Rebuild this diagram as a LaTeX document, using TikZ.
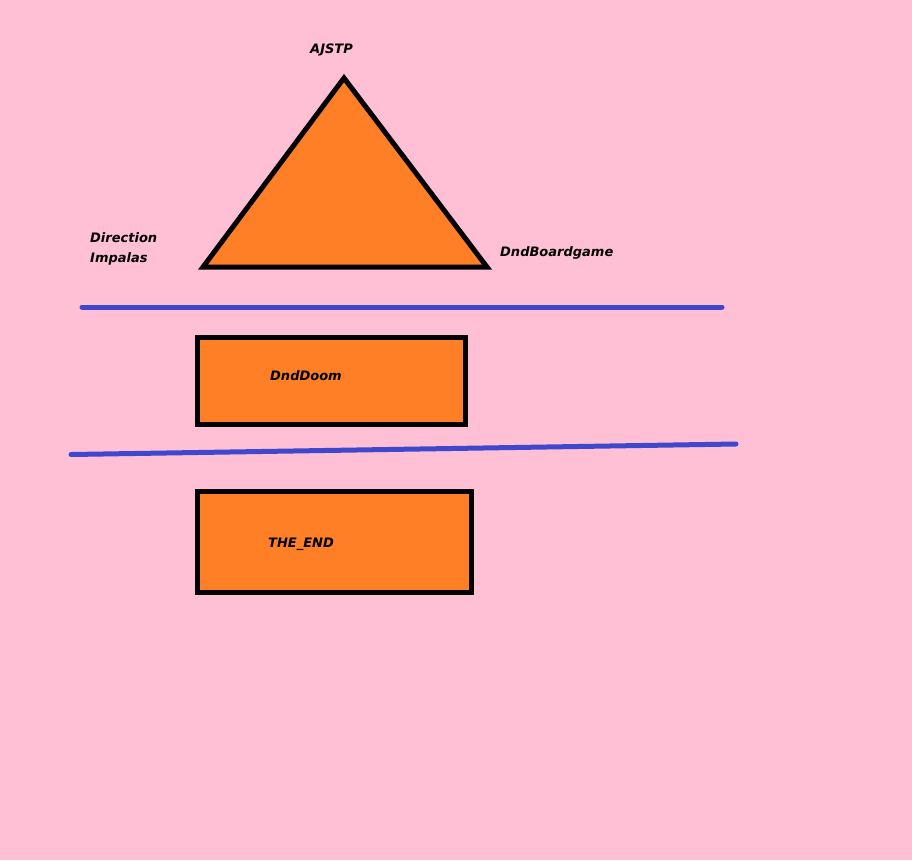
\documentclass[tikz,border=0pt]{standalone}
\usepackage{fontspec}
\newfontfamily\lblfont{DejaVu Sans}
\definecolor{bgpink}{RGB}{255,192,213}
\definecolor{fillorange}{RGB}{255,127,39}
\definecolor{lineblue}{RGB}{63,72,204}
\begin{document}
\begin{tikzpicture}[x=1pt,y=-1pt,
  lbl/.style={anchor=base west,inner sep=0pt,font=\lblfont\fontsize{13}{15}\selectfont\bfseries\itshape},
  boxshape/.style={draw=black,line width=5pt,fill=fillorange},
  divider/.style={draw=lineblue,line width=5pt,line cap=round}]
\fill[bgpink] (0,0) rectangle (912,860);
\useasboundingbox (0,0) rectangle (912,860);
% triangle
\coordinate (top) at (344,78);
\coordinate (bl) at (203,267);
\coordinate (br) at (487,267);
\filldraw[boxshape,line join=miter] (top) -- (br) -- (bl) -- cycle;
% dividers
\coordinate (d1a) at (82,307);
\coordinate (d1b) at (722,307);
\draw[divider] (d1a) -- (d1b);
\coordinate (d2a) at (71,454.5);
\coordinate (d2b) at (736,444);
\draw[divider] (d2a) -- (d2b);
% boxes
\node[boxshape,rectangle,minimum width=268pt,minimum height=87pt,inner sep=0pt] (box1) at (331.25,381) {};
\node[boxshape,rectangle,minimum width=274pt,minimum height=100.5pt,inner sep=0pt] (box2) at (334.5,541.75) {};
% labels
\node[lbl] (ajstp) at (310,53) {AJSTP};
\node[lbl] (dir) at (90,242) {Direction};
\node[lbl] (imp) at (90,262) {Impalas};
\node[lbl] (dndbg) at (500,256) {DndBoardgame};
\node[lbl] (dnddoom) at (270,380) {DndDoom};
\node[lbl] (theend) at (268,547) {THE\_END};
\end{tikzpicture}
\end{document}
